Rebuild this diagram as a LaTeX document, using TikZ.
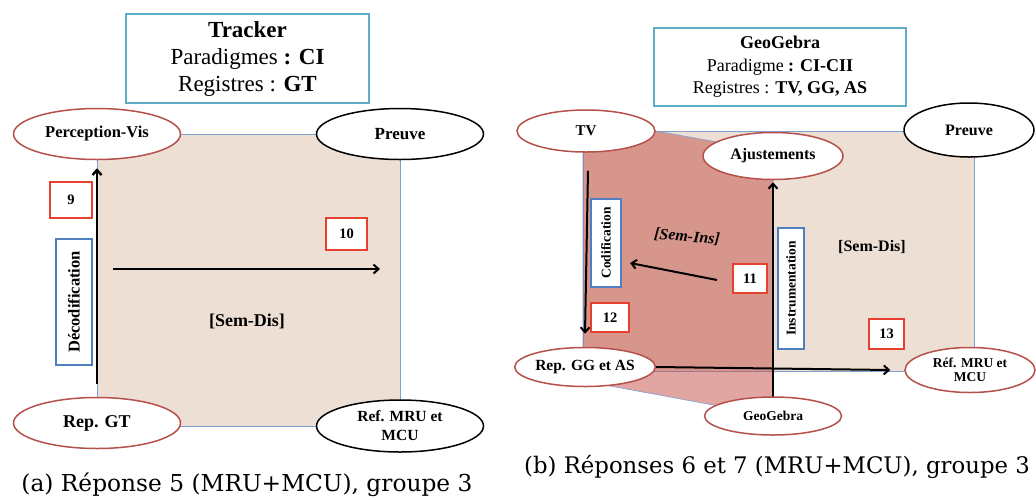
\documentclass[tikz,border=0pt]{standalone}
\usepackage{fontspec}
\setmainfont{Liberation Serif}
\newfontfamily\capfont{DejaVu Serif}
\usepackage{tikz}
\usetikzlibrary{shapes.geometric, arrows.meta, positioning}
\definecolor{semdis}{HTML}{EDDFD4}
\definecolor{semins}{HTML}{C34E46}
\definecolor{regred}{HTML}{B5504B}
\definecolor{numred}{HTML}{E8402F}
\definecolor{actblue}{HTML}{4F7FC0}
\definecolor{teal}{HTML}{5FAEC4}
\definecolor{edgeblue}{HTML}{7EA1D3}
\newcommand{\lbl}[2]{\bfseries\fontsize{#1}{#2}\selectfont}
\pgfdeclarelayer{fills}
\pgfdeclarelayer{links}
\pgfsetlayers{fills,links,main}

\begin{document}
\begin{tikzpicture}[x=1pt, y=-1pt,
  reg/.style={ellipse, draw=regred, line width=1.5pt, fill=white, inner sep=0pt, align=center},
  refer/.style={ellipse, draw=black, line width=1.5pt, fill=white, inner sep=0pt, align=center},
  numbox/.style={rectangle, draw=numred, line width=1.4pt, fill=white, inner sep=0pt, font=\lbl{14.5}{16}},
  actbox/.style={rectangle, draw=actblue, line width=1.4pt, fill=white, inner sep=0pt, rotate=90},
  titlebox/.style={rectangle, draw=teal, line width=1.6pt, fill=white, inner sep=0pt, align=center},
  arr/.style={line width=2pt, -{Straight Barb[length=5pt, width=9pt]}}]

  \useasboundingbox (0,0) rectangle (1036,499);

  % (a) Tracker
  \node[titlebox, minimum width=243, minimum height=89, font=\fontsize{23}{27}\selectfont]
    (tracker) at (247.5,58.5)
    {{\bfseries Tracker}\\Paradigmes \textbf{: CI}\\Registres : \textbf{GT}};

  \node[reg, minimum width=167, minimum height=51, font=\lbl{16.5}{18}] (percep) at (97,134) {Perception-Vis};
  \node[refer, minimum width=167, minimum height=51, font=\lbl{17}{18}] (preuvea) at (400,134) {Preuve};
  \node[reg, minimum width=167, minimum height=51, font=\lbl{18}{20}] (repgt) at (97,423) {Rep. GT};
  \node[refer, minimum width=167, minimum height=52, font=\lbl{15.5}{19}] (refa) at (400,426) {Ref. MRU et\\MCU};

  \node[numbox, minimum width=42, minimum height=36] (n9) at (71,200) {9};
  \node[numbox, minimum width=41, minimum height=32] (n10) at (346.5,234) {10};
  \node[actbox, minimum width=126, minimum height=36, font=\lbl{16.5}{18}] (decod) at (74,302) {Décodification};
  \node[font=\lbl{18}{20}] (semdisa) at (247,321) {[Sem-Dis]};

  \coordinate (hstart) at (113,269);
  \coordinate (hend) at (380,269);

  \begin{pgfonlayer}{fills}
    \fill[semdis] (percep.center) rectangle (refa.center);
    \draw[edgeblue, line width=0.6pt] (percep.center) rectangle (refa.center);
  \end{pgfonlayer}
  \begin{pgfonlayer}{links}
    \draw[arr, line width=2.4pt] ([yshift=13pt]repgt.north) -- ([yshift=-8pt]percep.south);
    \draw[arr] (hstart) -- (hend);
  \end{pgfonlayer}

  \node[font=\capfont\fontsize{23.3}{25}\selectfont] (capa) at (247,485) {(a) Réponse 5 (MRU+MCU), groupe 3};

  % (b) GeoGebra
  \node[titlebox, minimum width=252, minimum height=78, font=\fontsize{18}{22.5}\selectfont]
    (geogebra) at (780,67)
    {{\bfseries GeoGebra}\\Paradigme \textbf{: CI-CII}\\Registres : \textbf{TV, GG, AS}};

  \node[reg, minimum width=138, minimum height=42, font=\lbl{15}{16}] (tv) at (586,131) {TV};
  \node[reg, minimum width=140, minimum height=47, font=\lbl{16}{18}] (ajust) at (773,156) {Ajustements};
  \node[refer, minimum width=130, minimum height=54, font=\lbl{16}{18}] (preuveb) at (969,130) {Preuve};
  \node[reg, minimum width=135, minimum height=39, font=\lbl{15.5}{17}] (repgg) at (585,367) {Rep. GG et AS};
  \node[reg, minimum width=137, minimum height=38, font=\lbl{13.5}{15}] (geob) at (773,416) {GeoGebra};
  \node[reg, minimum width=130, minimum height=45, font=\lbl{13.5}{14}] (refb) at (970,370) {Réf. MRU et\\MCU};

  \node[actbox, minimum width=88, minimum height=30, font=\lbl{13.5}{15}] (codif) at (606,243) {Codification};
  \node[actbox, minimum width=121, minimum height=26, font=\lbl{13.5}{15}] (instr) at (791,288.5) {Instrumentation};
  \node[numbox, minimum width=34, minimum height=29] (n11) at (750,278.5) {11};
  \node[numbox, minimum width=38, minimum height=29] (n12) at (610,317.5) {12};
  \node[numbox, minimum width=35, minimum height=30] (n13) at (886.5,334) {13};
  \node[font=\lbl{16}{18}\itshape, rotate=-5] (seminsb) at (687,237) {[Sem-Ins]};
  \node[font=\lbl{16}{18}] (semdisb) at (872,247) {[Sem-Dis]};

  \coordinate (iastart) at (717,280);
  \coordinate (iaend) at (630,263);

  \begin{pgfonlayer}{fills}
    \fill[semdis] (583,131) rectangle (974,371);
    \draw[edgeblue, line width=0.6pt] (583,131) rectangle (974,371);
    \fill[semins, opacity=0.5] (583,118) -- (773,152) -- (773,416) -- (583,381) -- cycle;
    \draw[edgeblue, line width=0.6pt] (583,118) -- (773,152) -- (773,416) -- (583,381) -- cycle;
  \end{pgfonlayer}
  \begin{pgfonlayer}{links}
    \draw[arr] ([xshift=2pt, yshift=-18pt]tv.south) -- ([yshift=13pt]repgg.north);
    \draw[arr] (iastart) -- (iaend);
    \draw[arr] (geob.center) -- ([yshift=-2pt]ajust.south);
    \draw[arr] (repgg.east) -- ([xshift=-14pt]refb.west);
  \end{pgfonlayer}

  \node[font=\capfont\fontsize{22.8}{25}\selectfont] (capb) at (777,467) {(b) Réponses 6 et 7 (MRU+MCU), groupe 3};
\end{tikzpicture}
\end{document}
